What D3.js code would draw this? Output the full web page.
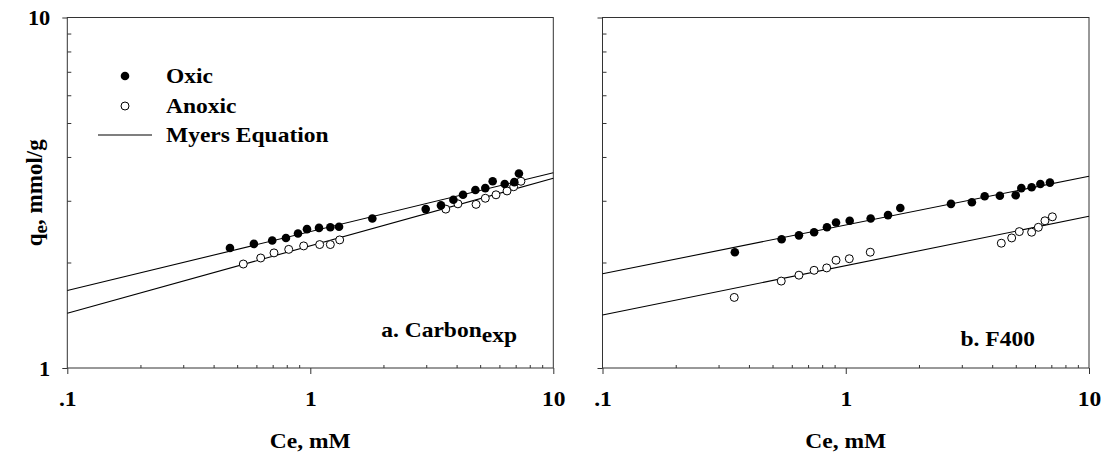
<!DOCTYPE html>
<html>
<head>
<meta charset="utf-8">
<script src="https://cdn.jsdelivr.net/npm/d3@7.9.0/dist/d3.min.js"></script>
<style>
  html, body { margin: 0; padding: 0; background: #fff; }
  svg text { font-family: "Liberation Serif", "Times New Roman", serif; font-weight: bold; fill: #000; }
</style>
</head>
<body>
<svg id="chart" width="1106" height="462"></svg>
<script>
// ---- data (Ce in mM, qe in mmol/g) ----
const xTicks = [0.1, 1, 10];
const xTickLabels = ['.1', '1', '10'];
const xMinor = [0.2, 0.3, 0.4, 0.5, 0.6, 0.7, 0.8, 0.9, 2, 3, 4, 5, 6, 7, 8, 9];
const yTicks = [1, 10];
const yTickLabels = ['1', '10'];
const yMinor = [2, 3, 4, 5, 6, 7, 8, 9];

const carbonOxic = [
  [0.467, 2.20], [0.586, 2.26], [0.697, 2.31], [0.794, 2.35], [0.890, 2.42],
  [0.969, 2.49], [1.086, 2.51], [1.209, 2.52], [1.313, 2.53], [1.800, 2.67],
  [2.985, 2.84], [3.45, 2.91], [3.88, 3.02], [4.25, 3.12], [4.78, 3.22],
  [5.25, 3.26], [5.63, 3.41], [6.31, 3.35], [6.91, 3.39], [7.22, 3.59]
];
const carbonAnoxic = [
  [0.530, 1.98], [0.625, 2.06], [0.709, 2.13], [0.815, 2.18], [0.939, 2.23],
  [1.093, 2.25], [1.209, 2.25], [1.321, 2.32], [3.61, 2.84], [4.05, 2.94],
  [4.81, 2.93], [5.25, 3.05], [5.81, 3.12], [6.45, 3.20], [6.87, 3.29], [7.36, 3.41]
];
const carbonOxicFit = [[0.1, 1.663], [10, 3.607]];
const carbonAnoxicFit = [[0.1, 1.432], [10, 3.477]];

const f400Oxic = [
  [0.350, 2.14], [0.545, 2.33], [0.642, 2.39], [0.741, 2.44], [0.837, 2.52],
  [0.912, 2.60], [1.038, 2.63], [1.266, 2.67], [1.492, 2.73], [1.676, 2.86],
  [2.708, 2.94], [3.30, 2.97], [3.725, 3.09], [4.30, 3.10], [4.996, 3.11],
  [5.27, 3.26], [5.81, 3.28], [6.31, 3.35], [6.91, 3.38]
];
const f400Anoxic = [
  [0.348, 1.59], [0.543, 1.77], [0.642, 1.84], [0.741, 1.90], [0.835, 1.93],
  [0.912, 2.03], [1.034, 2.05], [1.261, 2.14], [4.36, 2.27], [4.81, 2.35],
  [5.17, 2.45], [5.81, 2.44], [6.19, 2.52], [6.59, 2.63], [7.07, 2.70]
];
const f400OxicFit = [[0.1, 1.857], [10, 3.524]];
const f400AnoxicFit = [[0.1, 1.416], [10, 2.709]];

const legendItems = ['Oxic', 'Anoxic', 'Myers Equation'];

// ---- layout ----
const svg = d3.select('#chart');
const yTop = 17.5, yBottom = 368;
const y = d3.scaleLog().domain([1, 10]).range([yBottom, yTop]);
const SX = 1.12; // the original lettering is a bit wider than Liberation Serif

// move x/y into a transform so the glyphs can be widened around their anchor
function stretch(sel) {
  sel.each(function () {
    const t = d3.select(this);
    const tx = +t.attr('x') || 0, ty = +t.attr('y') || 0;
    t.attr('x', 0).attr('y', 0).attr('transform', `translate(${tx},${ty}) scale(${SX},1)`);
  });
}

const panels = [
  { x0: 67.3, x1: 553.3, oxic: carbonOxic, anoxic: carbonAnoxic,
    fits: [carbonOxicFit, carbonAnoxicFit], label: ['a. Carbon', 'exp'], labelRight: 517, labelY: 337, yLabels: true },
  { x0: 602.5, x1: 1089, oxic: f400Oxic, anoxic: f400Anoxic,
    fits: [f400OxicFit, f400AnoxicFit], label: ['b. F400', ''], labelRight: 1035, labelY: 346, yLabels: false }
];

panels.forEach(p => {
  const x = d3.scaleLog().domain([0.1, 10]).range([p.x0, p.x1]);
  const g = svg.append('g');
  const axisColor = '#333';

  // frame
  g.append('rect')
    .attr('x', p.x0).attr('y', yTop)
    .attr('width', p.x1 - p.x0).attr('height', yBottom - yTop)
    .attr('fill', 'none').attr('stroke', axisColor).attr('stroke-width', 1);

  // minor ticks (inside)
  g.append('g').attr('transform', `translate(${p.x0},0)`)
    .call(d3.axisLeft(y).tickValues(yMinor).tickSize(-4).tickSizeOuter(0).tickFormat(''))
    .call(a => a.select('.domain').remove());
  g.append('g').attr('transform', `translate(0,${yBottom})`)
    .call(d3.axisBottom(x).tickValues(xMinor).tickSize(-3).tickSizeOuter(0).tickFormat(''))
    .call(a => a.select('.domain').remove());

  // major ticks (outside)
  const yAx = g.append('g').attr('transform', `translate(${p.x0},0)`)
    .call(d3.axisLeft(y).tickValues(yTicks).tickSize(5).tickPadding(12)
      .tickFormat((d, i) => p.yLabels ? yTickLabels[i] : ''))
    .call(a => a.select('.domain').remove());
  yAx.selectAll('text').attr('font-size', 20).attr('dy', '0.36em')
    .style('font-family', '"Liberation Serif", serif').style('font-weight', 'bold')
    .call(stretch);

  const xAx = g.append('g').attr('transform', `translate(0,${yBottom})`)
    .call(d3.axisBottom(x).tickValues(xTicks).tickSize(6).tickPadding(17)
      .tickFormat((d, i) => xTickLabels[i]))
    .call(a => a.select('.domain').remove());
  xAx.selectAll('text').attr('font-size', 21)
    .style('font-family', '"Liberation Serif", serif').style('font-weight', 'bold')
    .call(stretch);

  g.selectAll('.tick line').attr('stroke', axisColor);

  // Myers equation fits
  const line = d3.line().x(d => x(d[0])).y(d => y(d[1]));
  p.fits.forEach(f => {
    g.append('path').datum(f).attr('d', line)
      .attr('fill', 'none').attr('stroke', '#000').attr('stroke-width', 1.1);
  });

  // points
  g.append('g').selectAll('circle').data(p.anoxic).join('circle')
    .attr('cx', d => x(d[0])).attr('cy', d => y(d[1])).attr('r', 4)
    .attr('fill', '#fff').attr('stroke', '#000').attr('stroke-width', 1);
  g.append('g').selectAll('circle').data(p.oxic).join('circle')
    .attr('cx', d => x(d[0])).attr('cy', d => y(d[1])).attr('r', 4.3)
    .attr('fill', '#000');

  // x title
  g.append('text').attr('x', (p.x0 + p.x1) / 2).attr('y', 448)
    .attr('text-anchor', 'middle').attr('font-size', 21).text('Ce, mM')
    .call(stretch);

  // panel label
  const lt = g.append('text').attr('x', p.labelRight).attr('y', p.labelY)
    .attr('text-anchor', 'end').attr('font-size', 21);
  lt.append('tspan').text(p.label[0]);
  if (p.label[1]) lt.append('tspan').attr('dy', 5).text(p.label[1]);
  lt.call(stretch);
});

// y title
const yt = svg.append('text')
  .attr('transform', `translate(42,${(yTop + yBottom) / 2}) rotate(-90)`)
  .attr('text-anchor', 'middle').attr('font-size', 23);
yt.append('tspan').text('q');
yt.append('tspan').attr('dy', 5).attr('font-size', 19).text('e');
yt.append('tspan').attr('dy', -5).text(', mmol/g');

// legend
const lg = svg.append('g');
const legY = [76, 106, 135];
lg.append('circle').attr('cx', 125).attr('cy', legY[0]).attr('r', 4.3).attr('fill', '#000');
lg.append('circle').attr('cx', 125).attr('cy', legY[1]).attr('r', 4)
  .attr('fill', '#fff').attr('stroke', '#000');
lg.append('line').attr('x1', 98).attr('x2', 152).attr('y1', legY[2]).attr('y2', legY[2])
  .attr('stroke', '#000').attr('stroke-width', 1.1);
lg.selectAll('text.leg').data(legendItems).join('text').attr('class', 'leg')
  .attr('x', 166).attr('y', (d, i) => legY[i] + 7).attr('font-size', 21).text(d => d)
  .call(stretch);
</script>
</body>
</html>
